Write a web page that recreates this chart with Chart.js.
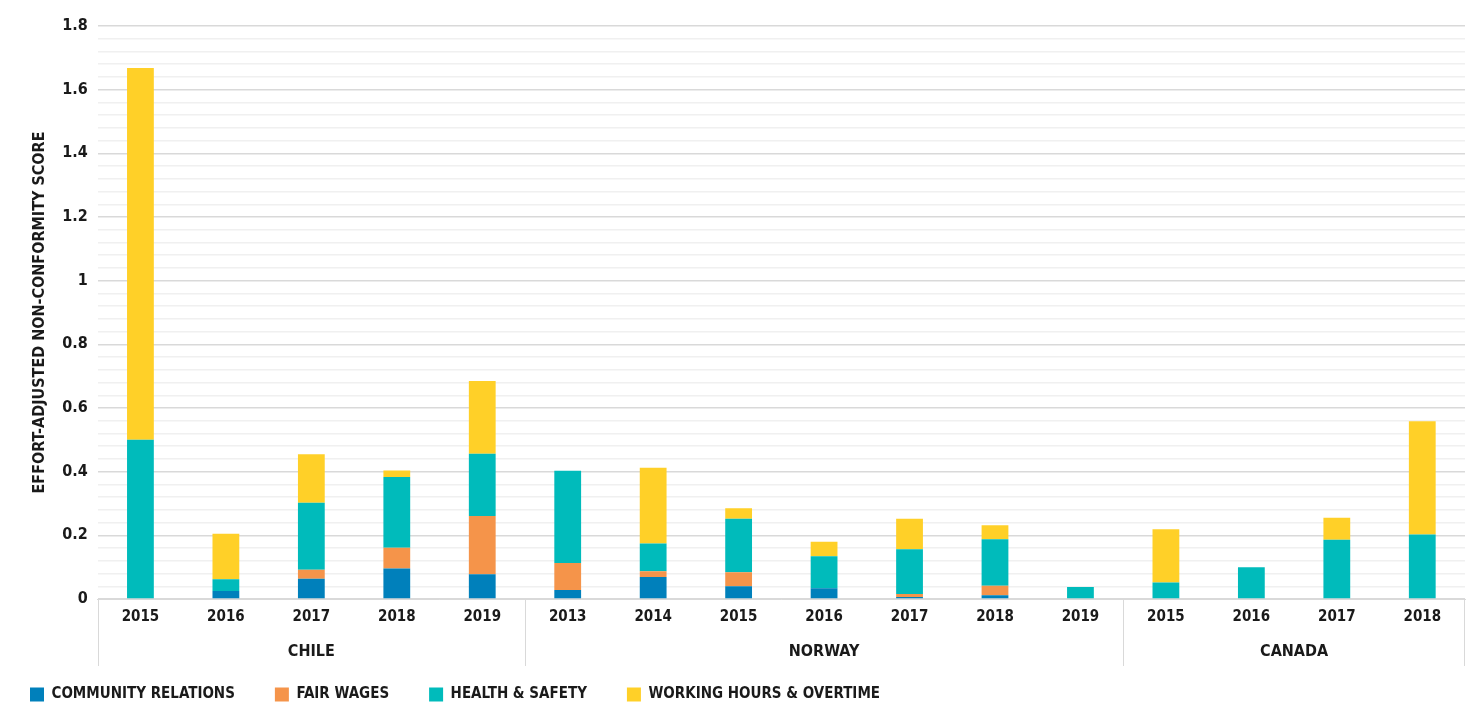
<!DOCTYPE html>
<html>
<head>
<meta charset="utf-8">
<script src="https://cdn.jsdelivr.net/npm/chart.js@4/dist/chart.umd.min.js"></script>
<style>
  html, body { margin: 0; padding: 0; background: #fff; }
  #wrap { width: 1476px; height: 702px; position: relative; }
</style>
</head>
<body>
<div id="wrap"><canvas id="chart"></canvas></div>
<script>
// categories (years) and the country groups they belong to
const years = ['2015', '2016', '2017', '2018', '2019',
               '2013', '2014', '2015', '2016', '2017', '2018', '2019',
               '2015', '2016', '2017', '2018'];
const groupNames = ['CHILE', 'NORWAY', 'CANADA'];
const groupSizes = [5, 7, 4];

// series values, stacked bottom to top
const communityRelations = [0, 0.025, 0.064, 0.096, 0.078,
                            0.028, 0.069, 0.040, 0.034, 0.006, 0.012, 0,
                            0, 0, 0, 0];
const fairWages = [0, 0, 0.028, 0.065, 0.183,
                   0.085, 0.018, 0.044, 0, 0.010, 0.030, 0,
                   0, 0, 0, 0];
const healthSafety = [0.50, 0.037, 0.210, 0.222, 0.195,
                      0.290, 0.087, 0.168, 0.100, 0.140, 0.146, 0.038,
                      0.052, 0.100, 0.186, 0.203];
const workingHours = [1.168, 0.143, 0.153, 0.021, 0.229,
                      0, 0.238, 0.033, 0.046, 0.096, 0.044, 0,
                      0.167, 0, 0.069, 0.355];

const FONT = '"Liberation Sans Narrow", "DejaVu Sans", sans-serif';
const WEIGHT = 'bold condensed';

// draws the country row under the years, with the box lines
const groupAxis = {
    id: 'groupAxis',
    afterDraw(chart) {
        const ctx = chart.ctx;
        const x = chart.scales.x;
        const top = chart.chartArea.bottom;
        const bottom = top + 67;
        const half = (x.getPixelForValue(1) - x.getPixelForValue(0)) / 2;
        ctx.save();
        ctx.strokeStyle = '#d9d9d9';
        ctx.lineWidth = 1;
        ctx.fillStyle = '#1a1a1a';
        ctx.font = WEIGHT + ' 16px ' + FONT;
        ctx.textAlign = 'center';
        ctx.textBaseline = 'middle';
        let start = 0;
        groupSizes.forEach((n, i) => {
            const left = x.getPixelForValue(start) - half;
            const right = x.getPixelForValue(start + n - 1) + half;
            ctx.beginPath();
            ctx.moveTo(Math.round(left) + 0.5, top);
            ctx.lineTo(Math.round(left) + 0.5, bottom);
            ctx.stroke();
            if (i === groupSizes.length - 1) {
                ctx.beginPath();
                ctx.moveTo(Math.round(right) - 0.5, top);
                ctx.lineTo(Math.round(right) - 0.5, bottom);
                ctx.stroke();
            }
            ctx.fillText(groupNames[i], (left + right) / 2, top + 53);
            start += n;
        });
        ctx.restore();
    }
};

const ctx = document.getElementById('chart').getContext('2d');
new Chart(ctx, {
    type: 'bar',
    data: {
        labels: years,
        datasets: [
            { label: 'COMMUNITY RELATIONS', data: communityRelations, backgroundColor: '#0080bb' },
            { label: 'FAIR WAGES', data: fairWages, backgroundColor: '#f5944a' },
            { label: 'HEALTH & SAFETY', data: healthSafety, backgroundColor: '#00bbbb' },
            { label: 'WORKING HOURS & OVERTIME', data: workingHours, backgroundColor: '#ffd028' }
        ]
    },
    options: {
        responsive: true,
        maintainAspectRatio: false,
        animation: false,
        layout: { padding: { top: 26, right: 11, left: -10, bottom: -10 } },
        datasets: { bar: { barPercentage: 0.95, categoryPercentage: 0.33, borderWidth: 0 } },
        scales: {
            x: {
                stacked: true,
                grid: { display: false, drawTicks: false },
                border: { color: '#d9d9d9' },
                ticks: {
                    color: '#1a1a1a',
                    padding: 9,
                    font: { family: FONT, size: 15, weight: WEIGHT }
                },
                afterFit(scale) { scale.height += 12; }
            },
            y: {
                stacked: true,
                min: 0,
                max: 1.8,
                grid: {
                    drawTicks: false,
                    color: c => (Math.round(c.tick.value * 100) % 20 === 0 ? '#d9d9d9' : '#f0f0f0'),
                    lineWidth: 1.5
                },
                border: { display: false },
                ticks: {
                    stepSize: 0.04,
                    autoSkip: false,
                    padding: 10,
                    color: '#1a1a1a',
                    font: { family: FONT, size: 16, weight: WEIGHT },
                    callback: v => (Math.round(v * 100) % 20 === 0 ? String(Math.round(v * 10) / 10) : '')
                },
                title: {
                    display: true,
                    text: 'EFFORT-ADJUSTED NON-CONFORMITY SCORE',
                    color: '#1a1a1a',
                    padding: { top: 40, bottom: 3 },
                    font: { family: FONT, size: 16, weight: WEIGHT }
                }
            }
        },
        plugins: {
            legend: {
                position: 'bottom',
                align: 'start',
                labels: {
                    boxWidth: 14,
                    boxHeight: 14,
                    padding: 40,
                    color: '#1a1a1a',
                    font: { family: FONT, size: 15, weight: WEIGHT }
                }
            },
            tooltip: { enabled: false }
        }
    },
    plugins: [groupAxis]
});
</script>
</body>
</html>
